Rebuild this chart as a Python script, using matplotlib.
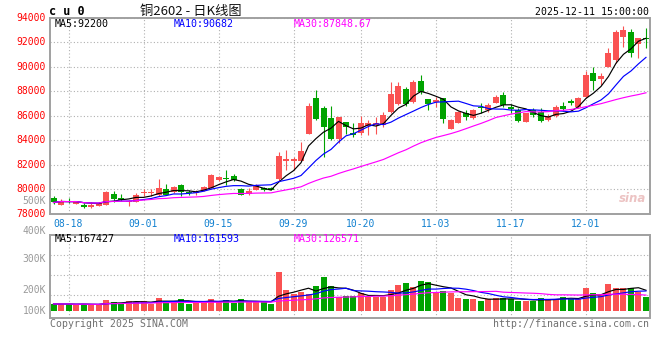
import matplotlib
matplotlib.use("Agg")
import matplotlib.pyplot as plt
import numpy as np
import pandas as pd

# ---------------- data ----------------
dates = ['08-14', '08-15', '08-18', '08-19', '08-20', '08-21', '08-22', '08-25', '08-26', '08-27',
         '08-28', '08-29', '09-01', '09-02', '09-03', '09-04', '09-05', '09-08', '09-09', '09-10',
         '09-11', '09-12', '09-15', '09-16', '09-17', '09-18', '09-19', '09-22', '09-23', '09-24',
         '09-25', '09-26', '09-29', '09-30', '10-09', '10-10', '10-13', '10-14', '10-15', '10-16',
         '10-17', '10-20', '10-21', '10-22', '10-23', '10-24', '10-27', '10-28', '10-29', '10-30',
         '10-31', '11-03', '11-04', '11-05', '11-06', '11-07', '11-10', '11-11', '11-12', '11-13',
         '11-14', '11-17', '11-18', '11-19', '11-20', '11-21', '11-24', '11-25', '11-26', '11-27',
         '11-28', '12-01', '12-02', '12-03', '12-04', '12-05', '12-08', '12-09', '12-10', '12-11']

opens = [79280, 78735, 79060, 78790, 78710, 78530, 78630, 78690, 79610, 79280,
         78900, 78960, 79670, 79680, 79500, 80020, 79750, 80340, 79790, 79670,
         79860, 80100, 80700, 80940, 81080, 80020, 79610, 79910, 80120, 80120,
         80810, 82280, 82300, 82330, 84530, 87470, 86630, 85840, 84070, 85460,
         84570, 84610, 85160, 85220, 85240, 86330, 86950, 88180, 87140, 88860,
         87360, 87140, 87420, 84940, 85430, 86250, 85790, 86740, 86470, 87060,
         87690, 86690, 86470, 85510, 86470, 86330, 85650, 85980, 86800, 87220,
         86690, 87500, 89460, 89020, 90000, 90550, 92450, 92810, 91850, 92370]
highs = [79390, 79175, 79280, 79060, 78820, 78900, 78960, 79850, 79860, 79610,
         79120, 79660, 79990, 80000, 80810, 80430, 80280, 80430, 79940, 79940,
         80250, 81220, 81100, 81570, 81200, 80100, 80080, 80400, 80200, 80200,
         83060, 83180, 82650, 83880, 87060, 88100, 86800, 86800, 85920, 85460,
         85380, 85980, 85650, 85900, 86330, 88730, 88780, 88370, 88910, 89320,
         87360, 87500, 87420, 85700, 86400, 86470, 86550, 87010, 87010, 87690,
         87960, 86960, 86600, 86250, 86600, 86600, 86150, 86870, 87150, 87330,
         87530, 89680, 90000, 89460, 91500, 93000, 93320, 93050, 92350, 93160]
lows = [78790, 78710, 78850, 78740, 78470, 78460, 78600, 78690, 78980, 79040,
        78580, 78950, 79390, 79400, 79450, 79500, 79700, 79390, 79500, 79530,
        79800, 80050, 80650, 80340, 80650, 79500, 79530, 79880, 79850, 79900,
        80670, 81570, 81570, 82250, 84500, 85650, 82650, 84020, 83800, 84500,
        84240, 84430, 84430, 84500, 85050, 86200, 86870, 86790, 87010, 87770,
        86470, 86690, 85430, 84890, 85400, 85650, 85700, 86250, 86330, 87010,
        86690, 86200, 85510, 85450, 85920, 85510, 85550, 85900, 86400, 86870,
        86630, 87420, 88100, 88500, 89980, 90280, 91630, 90820, 90690, 91500]
closes = [78900, 79060, 78955, 78980, 78550, 78690, 78850, 79750, 79180, 79140,
          79010, 79500, 79750, 79760, 80120, 79550, 80200, 79720, 79680, 79720,
          80180, 81160, 81020, 80830, 80700, 79530, 79860, 80320, 79910, 79950,
          82710, 82490, 82440, 83140, 86790, 85760, 85100, 84070, 85920, 85050,
          84430, 85430, 85430, 85380, 86060, 87800, 88420, 86950, 88750, 87960,
          86950, 87280, 85710, 85650, 86330, 85920, 86470, 86600, 86880, 87550,
          86880, 86520, 85590, 86200, 86060, 85590, 85980, 86690, 86520, 87010,
          87470, 89320, 88860, 89240, 91090, 92860, 93000, 91090, 92350, 92290]
volumes = [55000, 55000, 55000, 47000, 57000, 47000, 50000, 88000, 71000, 63000,
           80000, 71000, 80000, 57000, 104000, 80000, 68000, 96000, 57000, 71000,
           71000, 96000, 71000, 88000, 63000, 96000, 71000, 71000, 71000, 57000,
           320000, 170000, 139000, 156000, 137000, 203000, 276000, 203000, 115000, 123000,
           123000, 148000, 115000, 115000, 115000, 170000, 211000, 227000, 194000, 244000,
           235000, 145000, 164000, 145000, 104000, 96000, 96000, 80000, 96000, 104000,
           107000, 96000, 80000, 80000, 80000, 107000, 96000, 96000, 115000, 96000,
           96000, 189000, 145000, 129000, 219000, 189000, 189000, 189000, 156000, 115000]

tick_dates = ['08-18', '09-01', '09-15', '09-29', '10-20', '11-03', '11-17', '12-01']
price_ticks = [78000, 80000, 82000, 84000, 86000, 88000, 90000, 92000, 94000]
vol_label_text = ['500K', '400K', '300K', '200K', '100K']

title_code = 'c u 0'
title_name = '铜2602 - 日K线图'
stamp = '2025-12-11 15:00:00'
price_ma_text = ['MA5:92200', 'MA10:90682', 'MA30:87848.67']
vol_ma_text = ['MA5:167427', 'MA10:161593', 'MA30:126571']

# ---------------- style ----------------
RED = '#fa5252'
GREEN = '#00a300'
MA_COLORS = ['#000000', '#0000ff', '#ff00ff']
GRID = '#b0b0b0'
BORDER = '#a0a0a0'
MONO = 'DejaVu Sans Mono'

W, H = 660, 360
fig = plt.figure(figsize=(W / 100, H / 100), dpi=100)


def rect(x0, y0, x1, y1):
    return [x0 / W, 1 - y1 / H, (x1 - x0) / W, (y1 - y0) / H]


def ftext(x, y, s, **kw):
    kw.setdefault('va', 'center')
    fig.text(x / W, 1 - y / H, s, **kw)


ax = fig.add_axes(rect(50, 17.7, 649.5, 213.5))
axv = fig.add_axes(rect(50, 235, 649.5, 318.3))

o = np.array(opens, float)
h = np.array(highs, float)
l = np.array(lows, float)
c = np.array(closes, float)
v = np.array(volumes, float)
x = np.arange(len(dates))
up = c >= o
cols = np.where(up, RED, GREEN)

# candles
ax.vlines(x, l, h, colors=cols, linewidth=0.8, zorder=3)
body_bottom = np.minimum(o, c)
body_h = np.maximum(np.abs(c - o), 90)
ax.bar(x, body_h, bottom=body_bottom, width=0.8, color=cols, linewidth=0, zorder=4)

cs = pd.Series(c)
for n, col in zip([5, 10, 30], MA_COLORS):
    ax.plot(x, cs.rolling(n, min_periods=1).mean(), color=col, lw=0.85, zorder=5)

ax.set_xlim(-0.47, len(dates) - 0.53)
ax.set_ylim(price_ticks[0], price_ticks[-1])
ax.set_yticks(price_ticks)
ax.set_yticklabels([str(p) for p in price_ticks], color='#ff0000', fontsize=7, family=MONO,
                   va='bottom')
tick_pos = [dates.index(d) for d in tick_dates]
ax.set_xticks(tick_pos)
ax.set_xticklabels(tick_dates, color='#1080d0', fontsize=7, family=MONO)
ax.tick_params(axis='both', length=0, pad=3)
ax.tick_params(axis='x', pad=4)
ax.grid(True, color=GRID, linestyle=(0, (1, 2)), linewidth=0.8)
ax.set_axisbelow(True)
for t in ax.get_yticklabels():
    t.set_verticalalignment('center')
    t.set_y(t.get_position()[1])

# volume
axv.bar(x, v, width=0.8, color=cols, linewidth=0, zorder=3)
vs = pd.Series(v)
for n, col in zip([5, 10, 30], MA_COLORS):
    axv.plot(x, vs.rolling(n, min_periods=1).mean(), color=col, lw=0.85, zorder=5)
px = 8200.0  # volume per pixel of the panel
axv.set_xlim(ax.get_xlim())
axv.set_ylim(-(318.3 - 310.7) * px, (310.7 - 235) * px)
axv.set_yticks([(310.7 - yy) * px for yy in (255.3, 275.3, 295.3)])
axv.set_yticklabels([])
axv.set_xticks(tick_pos)
axv.set_xticklabels([])
axv.tick_params(axis='both', length=0)
axv.grid(True, color=GRID, linestyle=(0, (1, 2)), linewidth=0.8)
axv.set_axisbelow(True)

for a in (ax, axv):
    for s in a.spines.values():
        s.set_color(BORDER)
        s.set_linewidth(1.4)

# volume axis labels (drawn as in the reference)
for s, yy in zip(vol_label_text, [200.5, 231, 259.5, 290, 311]):
    ftext(46, yy, s, ha='right', color='#9a9a9a', fontsize=7, family=MONO)

# header texts
for s, xx, col in zip(price_ma_text, [55, 174, 294], MA_COLORS):
    ftext(xx, 23.7, s, ha='left', color=col, fontsize=7.2, family=MONO)
for s, xx, col in zip(vol_ma_text, [55, 174, 294], MA_COLORS):
    ftext(xx, 238.6, s, ha='left', color=col, fontsize=7.2, family=MONO)

ftext(49, 11.2, title_code, ha='left', fontsize=8.5, family=MONO, weight='bold', color='#000000')
ftext(140.5, 11.3, title_name, ha='left', fontsize=9.5, family=['Noto Sans CJK SC', 'DejaVu Sans'], color='#111111')
ftext(649, 11.7, stamp, ha='right', fontsize=7.1, family=MONO, color='#000000')
ftext(50, 324, 'Copyright 2025 SINA.COM', ha='left', fontsize=7.1, family=MONO, color='#707070')
ftext(649.3, 324, 'http://finance.sina.com.cn', ha='right', fontsize=7.1, family=MONO, color='#707070')
ftext(633, 199, 'sina', ha='center', fontsize=8.5, style='italic', weight='bold', color='#e8b4b4', alpha=0.8)

fig.savefig('out.png', dpi=100)
